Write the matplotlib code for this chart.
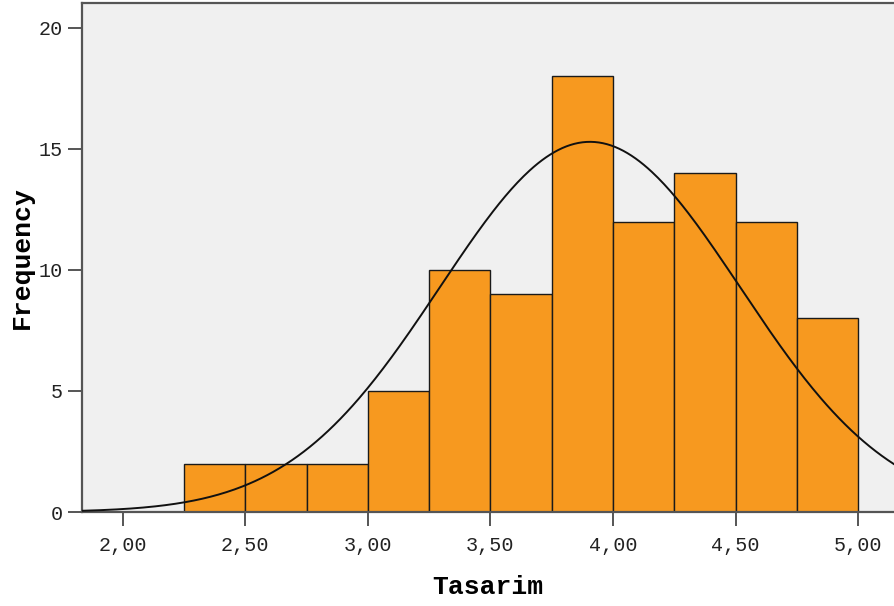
"""SPSS-style histogram of Tasarim with a fitted normal curve."""
import numpy as np
import matplotlib
matplotlib.use("Agg")
import matplotlib.pyplot as plt

# histogram bins (left edges), width and counts
BIN_LEFT = [2.25, 2.50, 2.75, 3.00, 3.25, 3.50, 3.75, 4.00, 4.25, 4.50, 4.75]
BIN_WIDTH = 0.25
COUNTS = [2, 2, 2, 5, 10, 9, 18, 12, 14, 12, 8]

# fitted normal curve parameters
MEAN = 3.906
SD = 0.613

X_TICKS = [2.0, 2.5, 3.0, 3.5, 4.0, 4.5, 5.0]
X_TICKLABELS = ["2,00", "2,50", "3,00", "3,50", "4,00", "4,50", "5,00"]
Y_TICKS = [0, 5, 10, 15, 20]

BAR_COL = "#F7991F"
BG_COL = "#F0F0F0"
SPINE_COL = "#555555"

MONO = ["Liberation Mono", "DejaVu Sans Mono"]


def main():
    fig = plt.figure(figsize=(8.94, 6.06), dpi=100)
    ax = fig.add_axes([82 / 894, 94 / 606, 1 - 82 / 894, 509 / 606])
    ax.set_facecolor(BG_COL)

    ax.bar(BIN_LEFT, COUNTS, width=BIN_WIDTH, align="edge", color=BAR_COL,
           edgecolor="#1a1a1a", linewidth=1.0, zorder=2)

    xmin, xmax = 1.834, 5.146
    xs = np.linspace(xmin, xmax, 400)
    n = sum(COUNTS)
    ys = n * BIN_WIDTH / (SD * np.sqrt(2 * np.pi)) * np.exp(-0.5 * ((xs - MEAN) / SD) ** 2)
    ax.plot(xs, ys, color="#111111", linewidth=1.4, zorder=3)

    ax.set_xlim(xmin, xmax)
    ax.set_ylim(0, 21.03)
    ax.set_xticks(X_TICKS)
    ax.set_xticklabels(X_TICKLABELS, family=MONO, fontsize=14.5, color="#222")
    ax.set_yticks(Y_TICKS)
    ax.set_yticklabels([str(v) for v in Y_TICKS], family=MONO, fontsize=14.5, color="#222")
    ax.tick_params(axis="x", length=10, width=1.4, color=SPINE_COL, pad=7)
    ax.tick_params(axis="y", length=10, width=1.4, color=SPINE_COL, pad=4)

    for side in ("left", "top", "bottom"):
        ax.spines[side].set_color(SPINE_COL)
        ax.spines[side].set_linewidth(1.6)
    ax.spines["right"].set_visible(False)

    ax.set_xlabel("Tasarim", family=MONO, fontsize=19, fontweight="bold", labelpad=15)
    ax.set_ylabel("Frequency", family=MONO, fontsize=19, fontweight="bold", labelpad=3)

    fig.savefig("out.png", dpi=100)
    plt.close(fig)


if __name__ == "__main__":
    main()
